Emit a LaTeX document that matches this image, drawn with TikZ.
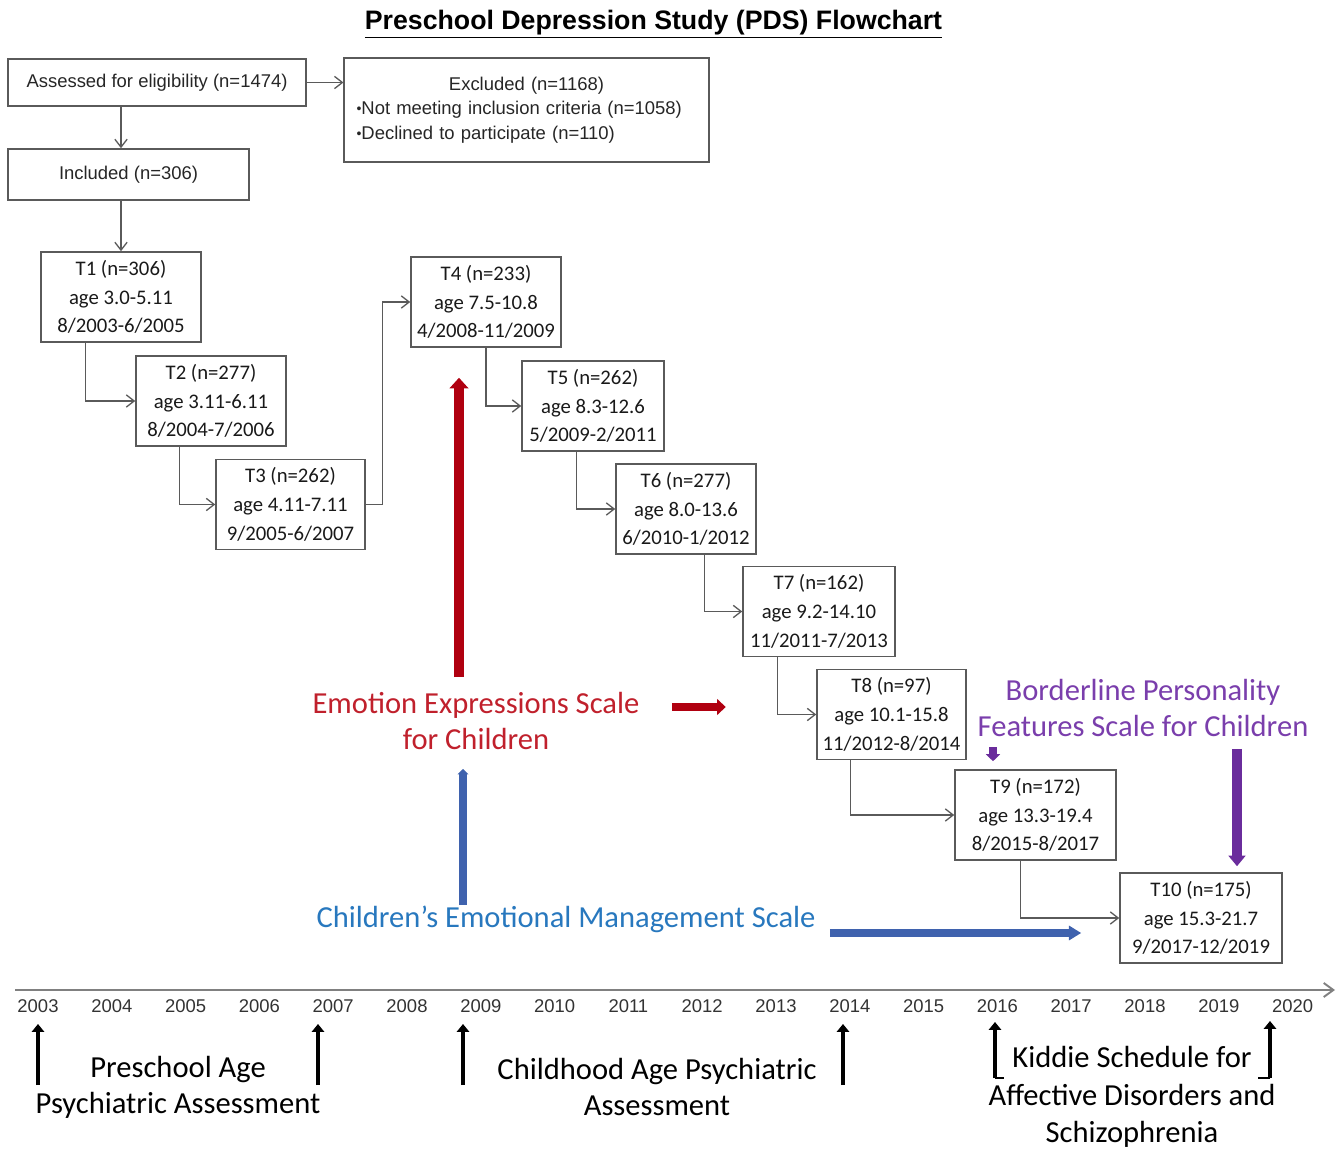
\documentclass[tikz,border=0pt]{standalone}
\usepackage{fontspec}
\setmainfont{Carlito}
\newfontfamily\arialfont{Liberation Sans}
\usetikzlibrary{arrows.meta,calc}
\definecolor{boxgray}{HTML}{5A5A5A}
\definecolor{eesred}{RGB}{192,32,44}
\definecolor{arrowred}{HTML}{B00010}
\definecolor{cemsblue}{RGB}{40,120,190}
\definecolor{arrowblue}{HTML}{3F62AE}
\definecolor{bpfspurple}{RGB}{122,62,172}
\definecolor{arrowpurple}{HTML}{6A2C9C}
\tikzset{
  flow/.style={draw=boxgray, line width=0.75pt, -{Straight Barb[length=4.5pt,width=7pt]}},
  flowbox/.style={draw=boxgray, line width=0.9pt, text=black!85,
    font=\arialfont\fontsize{10.5}{13.9}\selectfont},
  tbox/.style={draw=boxgray, line width=0.9pt, align=center, text=black!90,
    minimum height=1.8cm, inner sep=2pt, font=\fontsize{11.8}{16.4}\selectfont},
  scalelabel/.style={align=center, inner sep=0pt, font=\fontsize{17.4}{20.4}\selectfont},
  year/.style={text=black!80, font=\arialfont\fontsize{10.5}{12}\selectfont},
  axis/.style={draw=black!50, line width=1.1pt, -{Straight Barb[length=5.5pt,width=8pt]}},
  tick/.style={line width=2.3pt, -{Triangle[length=4.5pt,width=7pt]}},
  redfat/.style={draw=arrowred, line width=5.5pt, -{Triangle[length=6pt,width=10.5pt]}},
  bluefat/.style={draw=arrowblue, line width=4.3pt, -{Triangle[length=5pt,width=7.5pt]}},
  purplefat/.style={draw=arrowpurple, line width=5.5pt, -{Triangle[length=6pt,width=9.5pt]}}
}
\begin{document}
\begin{tikzpicture}[x=0.02cm,y=-0.02cm]
      \useasboundingbox (0,0) rectangle (1339,1151);
      \node[font=\arialfont\bfseries\fontsize{15.2}{18}\selectfont] (title) at (653.5,24)
        {\underline{Preschool Depression Study (PDS) Flowchart}};
      \node[flowbox, minimum width=5.96cm, minimum height=0.94cm] (A) at (157,82.5)
        {Assessed for eligibility (n=1474)};
      \node[flowbox, text width=6.8cm, inner xsep=7pt, minimum height=2.08cm, align=left] (E) at (526.5,110)
        {\makebox[\linewidth]{Excluded (n=1168)}\\
         \raisebox{0.5pt}{\footnotesize\textbullet}Not meeting inclusion criteria (n=1058)\\
         \raisebox{0.5pt}{\footnotesize\textbullet}Declined to participate (n=110)};
      \node[flowbox, minimum width=4.82cm, minimum height=1.02cm] (I) at (128.5,174.5)
        {Included (n=306)};
      \draw
        (121,297) node[tbox, minimum width=3.2cm] (T1) {T1 (n=306)\\age 3.0-5.11\\8/2003-6/2005}
        (211,401) node[tbox, minimum width=3.0cm] (T2) {T2 (n=277)\\age 3.11-6.11\\8/2004-7/2006}
        (290.5,504.5) node[tbox, minimum width=2.98cm] (T3) {T3 (n=262)\\age 4.11-7.11\\9/2005-6/2007}
        (486,302) node[tbox, minimum width=3.0cm] (T4) {T4 (n=233)\\age 7.5-10.8\\4/2008-11/2009}
        (593,406) node[tbox, minimum width=2.84cm] (T5) {T5 (n=262)\\age 8.3-12.6\\5/2009-2/2011}
        (686,509) node[tbox, minimum width=2.8cm] (T6) {T6 (n=277)\\age 8.0-13.6\\6/2010-1/2012}
        (819,611.5) node[tbox, minimum width=3.04cm] (T7) {T7 (n=162)\\age 9.2-14.10\\11/2011-7/2013}
        (891.5,714.5) node[tbox, minimum width=2.98cm] (T8) {T8 (n=97)\\age 10.1-15.8\\11/2012-8/2014}
        (1035.5,815) node[tbox, minimum width=3.22cm] (T9) {T9 (n=172)\\age 13.3-19.4\\8/2015-8/2017}
        (1201,918) node[tbox, minimum width=3.24cm] (T10) {T10 (n=175)\\age 15.3-21.7\\9/2017-12/2019};
      \begin{scope}[flow]
        \draw (A.east) -- (A.east -| E.west);
        \draw (A.south -| T1.north) -- (I.north -| T1.north);
        \draw (I.south -| T1.north) -- (T1.north);
        \draw ($(T1.south west)+(45,0)$) |- (T2.west);
        \draw ($(T2.south west)+(44,0)$) |- (T3.west);
        \draw (T3.east) -- ++(17,0) |- (T4.west);
        \draw (T4.south) |- (T5.west);
        \draw ($(T5.south west)+(55,0)$) |- (T6.west);
        \draw ($(T6.south west)+(89,0)$) |- (T7.west);
        \draw ($(T7.south west)+(35,0)$) |- (T8.west);
        \draw ($(T8.south west)+(34,0)$) |- (T9.west);
        \draw ($(T9.south west)+(66,0)$) |- (T10.west);
      \end{scope}
      \node[scalelabel, text=eesred] (ees) at (476,721) {Emotion Expressions Scale\\for Children};
      \node[scalelabel, text=cemsblue] (cems) at (566,919) {Children’s Emotional Management Scale};
      \node[scalelabel, text=bpfspurple] (bpfs) at (1143,708) {Borderline Personality\\Features Scale for Children};
      \draw[redfat] ($(ees.north)+(-17,-15)$) -- ($(T4.south)+(-27,30)$);
      \draw[redfat, line width=4.5pt, -{Triangle[length=5pt,width=9pt]}] ($(ees.east)+(32,-14)$) -- ++(54,0);
      \draw[bluefat, -{Triangle[length=3pt,width=6pt]}] ($(cems.north)+(-103,0)$) -- ($(ees.south)+(-13,19)$);
      \draw[bluefat, line width=4pt, -{Triangle[length=7pt,width=8pt]}] ($(cems.east)+(14,14)$) -- ($(T10.west)+(-38,15)$);
      \draw[purplefat, line width=4pt, -{Triangle[length=4pt,width=8pt]}] ($(T9.north)+(-42.5,-22)$) -- ($(T9.north)+(-42.5,-8)$);
      \coordinate (ptip) at ($(T10.north)+(36,-6)$);
      \draw[purplefat] ($(bpfs.south -| ptip)+(0,12)$) -- (ptip);
      \coordinate (tstart) at (15,990);
      \coordinate (tend) at (1335,990);
      \draw[axis] (tstart) -- (tend);
      \foreach \yr [count=\i from 0] in {2003,...,2020}
        \node[year] (y\yr) at (38+73.8*\i,1006) {\yr};
      \foreach \ax in {38,318,463,843}
        \draw[tick] (\ax,1085) -- (\ax,1024);
      \draw[tick] (995,1078) -- (995,1022);
      \draw[line width=1.2pt] (995,1078) -- (1004,1078);
      \draw[tick] (1270,1078) -- (1270,1021);
      \draw[line width=1.2pt] (1270,1078) -- (1258,1078);
      \node[scalelabel] (pre) at (178,1087) {Preschool Age\\Psychiatric Assessment};
      \node[scalelabel] (child) at (657,1087) {Childhood Age Psychiatric\\Assessment};
      \node[scalelabel, font=\fontsize{17.4}{21.2}\selectfont] (ksads) at (1132,1097)
        {Kiddie Schedule for\\Affective Disorders and\\Schizophrenia};
    \end{tikzpicture}
\end{document}
